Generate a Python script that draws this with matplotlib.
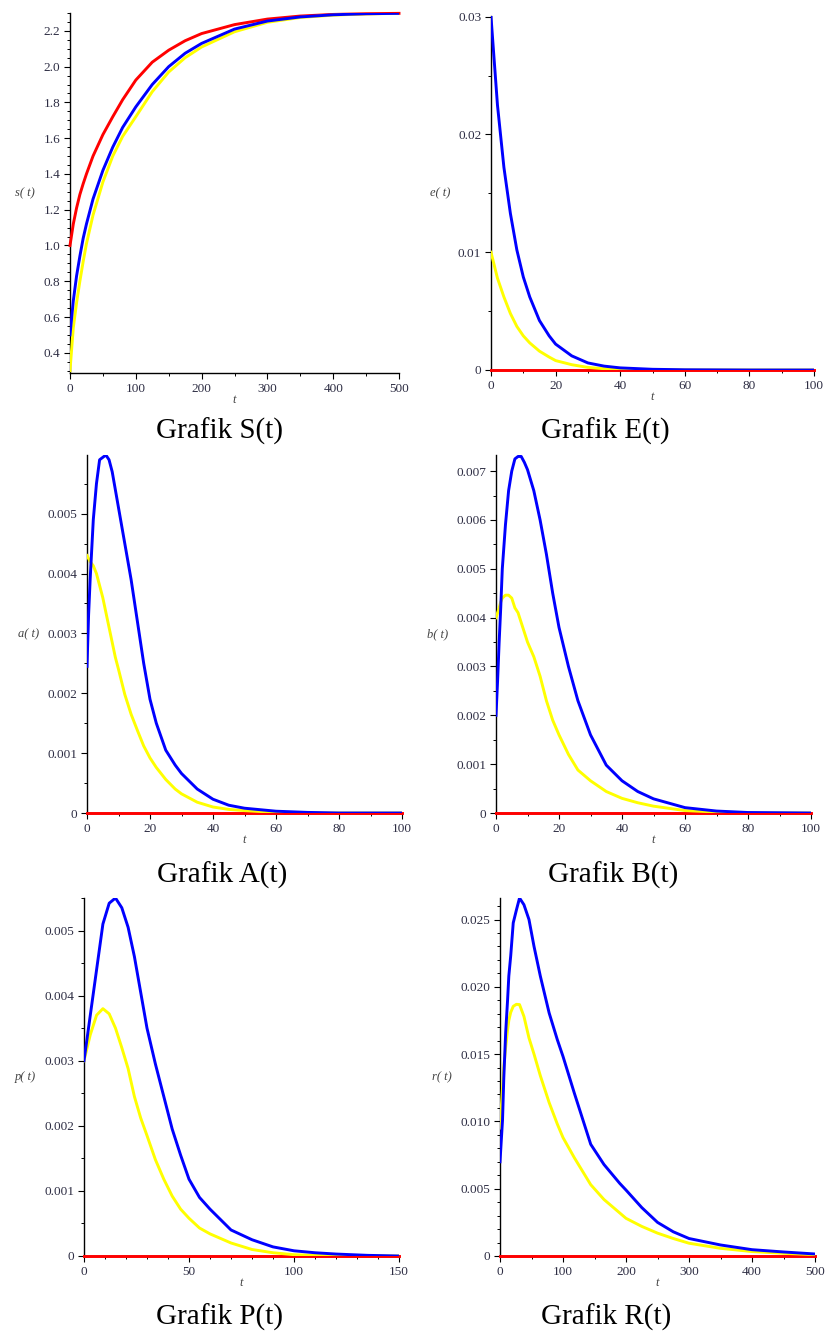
import matplotlib
matplotlib.use("Agg")
import matplotlib.pyplot as plt
from matplotlib.ticker import AutoMinorLocator, FixedLocator

W, H = 826, 1332

# ---- data ----
# S(t)
t_s = [0, 5, 10, 15, 20, 25, 35, 50, 65, 80, 100, 125, 150, 175, 200, 250, 300, 350, 400, 450, 500]
s_red = [1.00, 1.12, 1.21, 1.285, 1.345, 1.40, 1.50, 1.62, 1.72, 1.815, 1.925, 2.025, 2.092, 2.145, 2.185,
         2.235, 2.266, 2.283, 2.292, 2.296, 2.298]
s_blue = [0.50, 0.69, 0.83, 0.94, 1.04, 1.12, 1.26, 1.42, 1.55, 1.66, 1.775, 1.90, 2.00, 2.075, 2.13,
          2.21, 2.255, 2.278, 2.29, 2.296, 2.298]
s_yellow = [0.30, 0.54, 0.68, 0.80, 0.91, 1.01, 1.17, 1.355, 1.50, 1.61, 1.72, 1.86, 1.97, 2.05, 2.11,
            2.195, 2.248, 2.275, 2.288, 2.295, 2.298]

# E(t)
t_e = [0, 2, 4, 6, 8, 10, 12, 15, 18, 20, 25, 30, 35, 40, 50, 60, 80, 100]
e_red = [0.0] * len(t_e)
e_blue = [0.0300, 0.0225, 0.0172, 0.0133, 0.0102, 0.0079, 0.0062, 0.0042, 0.0029, 0.0022, 0.0012,
          0.0006, 0.00033, 0.00018, 0.00006, 0.00002, 0.0, 0.0]
e_yellow = [0.0100, 0.0078, 0.0062, 0.0048, 0.0037, 0.0029, 0.0023, 0.0016, 0.0011, 0.0008, 0.00045,
            0.00022, 0.00011, 0.00005, 0.00001, 0.0, 0.0, 0.0]

# A(t)
t_a = [0, 0.5, 1, 2, 3, 4, 5, 6, 7, 8, 9, 10, 12, 14, 16, 18, 20, 22, 25, 28, 30, 35, 40, 45, 50, 60, 70, 80, 100]
a_red = [0.0] * len(t_a)
a_blue = [0.00245, 0.0033, 0.0039, 0.0049, 0.0055, 0.0059, 0.00594, 0.00598, 0.0059, 0.0057, 0.0054,
          0.0051, 0.0045, 0.0039, 0.0032, 0.0025, 0.0019, 0.0015, 0.00105, 0.0008, 0.00066, 0.0004,
          0.00023, 0.00013, 0.00008, 0.00003, 0.00001, 0.0, 0.0]
a_yellow = [0.0043, 0.00425, 0.0042, 0.00413, 0.0040, 0.0038, 0.0036, 0.00335, 0.0031, 0.00285, 0.0026,
            0.0024, 0.00198, 0.00165, 0.00138, 0.00112, 0.00092, 0.00076, 0.00056, 0.0004, 0.00032,
            0.00018, 0.0001, 0.00006, 0.00004, 0.00001, 0.0, 0.0, 0.0]

# B(t)
t_b = [0, 0.5, 1, 1.5, 2, 3, 4, 5, 6, 7, 8, 9, 10, 12, 14, 16, 18, 20, 23, 26, 30, 35, 40, 45, 50, 60, 70, 80, 100]
b_red = [0.0] * len(t_b)
b_blue = [0.0020, 0.0027, 0.0035, 0.0042, 0.0050, 0.0059, 0.0066, 0.0070, 0.00725, 0.0073, 0.0073,
          0.00718, 0.00703, 0.0066, 0.0060, 0.0053, 0.0045, 0.0038, 0.0030, 0.0023, 0.0016, 0.00098,
          0.00066, 0.00044, 0.00029, 0.00011, 0.00004, 0.00001, 0.0]
b_yellow = [0.0040, 0.0041, 0.0042, 0.00432, 0.0044, 0.00446, 0.00446, 0.0044, 0.0042, 0.0041, 0.0039,
            0.0037, 0.0035, 0.0032, 0.0028, 0.0023, 0.0019, 0.0016, 0.0012, 0.00088, 0.00066, 0.00044,
            0.0003, 0.00021, 0.00014, 0.00005, 0.00002, 0.0, 0.0]

# P(t)
t_p = [0, 3, 6, 9, 12, 15, 18, 21, 24, 27, 30, 34, 38, 42, 46, 50, 55, 60, 70, 80, 90, 100, 110, 120, 135, 150]
p_red = [0.0] * len(t_p)
p_blue = [0.0030, 0.0037, 0.0044, 0.0051, 0.00542, 0.0055, 0.00535, 0.00505, 0.0046, 0.00405, 0.0035,
          0.00295, 0.00245, 0.00195, 0.00155, 0.00118, 0.0009, 0.00072, 0.0004, 0.00025, 0.00014,
          0.00008, 0.00005, 0.00003, 0.00001, 0.0]
p_yellow = [0.0030, 0.0034, 0.0037, 0.0038, 0.00372, 0.0035, 0.0032, 0.00288, 0.00245, 0.00212, 0.00185,
            0.00148, 0.00118, 0.00092, 0.00072, 0.00058, 0.00043, 0.00034, 0.0002, 0.0001, 0.00005,
            0.00002, 0.00001, 0.0, 0.0, 0.0]

# R(t)
t_r = [0, 4, 6, 9, 12, 14, 17, 21, 26, 31, 38, 46, 54, 64, 78, 91, 100, 118, 144, 165, 190, 200, 225,
       250, 275, 300, 350, 400, 450, 500]
r_red = [0.0] * len(t_r)
r_blue = [0.0070, 0.0101, 0.0132, 0.0166, 0.0190, 0.0208, 0.0223, 0.02475, 0.0257, 0.0266, 0.0261,
          0.0250, 0.0230, 0.0208, 0.01806, 0.01607, 0.01483, 0.0121, 0.0083, 0.0068, 0.0054, 0.0049,
          0.0036, 0.0025, 0.0018, 0.0013, 0.00082, 0.00047, 0.0003, 0.00015]
r_yellow = [0.0095, 0.0125, 0.0140, 0.0155, 0.0168, 0.0175, 0.0181, 0.01855, 0.0187, 0.01868, 0.0178,
            0.0162, 0.0150, 0.0134, 0.0114, 0.0098, 0.0088, 0.0073, 0.0053, 0.0042, 0.0032, 0.0028,
            0.0022, 0.0017, 0.0013, 0.00095, 0.00057, 0.00033, 0.0002, 0.0001]

# ---- panel settings ----
panels = [
    dict(rect=(70, 13, 399, 373), t=t_s, red=s_red, blue=s_blue, yellow=s_yellow,
         xlim=(0, 500), ylim=(0.287, 2.300), xt=[0, 100, 200, 300, 400, 500],
         yt=[0.4, 0.6, 0.8, 1.0, 1.2, 1.4, 1.6, 1.8, 2.0, 2.2],
         ytl=["0.4", "0.6", "0.8", "1.0", "1.2", "1.4", "1.6", "1.8", "2.0", "2.2"],
         xm=2, ym=4, ylab="s", ylx=25, title="Grafik S(t)", tpos=(220, 431)),
    dict(rect=(491, 16, 814, 370), t=t_e, red=e_red, blue=e_blue, yellow=e_yellow,
         xlim=(0, 100), ylim=(0, 0.03006), xt=[0, 20, 40, 60, 80, 100],
         yt=[0, 0.01, 0.02, 0.03], ytl=["0", "0.01", "0.02", "0.03"],
         xm=2, ym=2, ylab="e", ylx=440, title="Grafik E(t)", tpos=(605, 431)),
    dict(rect=(87, 455, 402, 813), t=t_a, red=a_red, blue=a_blue, yellow=a_yellow,
         xlim=(0, 100), ylim=(0, 0.00598), xt=[0, 20, 40, 60, 80, 100],
         yt=[0, 0.001, 0.002, 0.003, 0.004, 0.005],
         ytl=["0", "0.001", "0.002", "0.003", "0.004", "0.005"],
         xm=2, ym=2, ylab="a", ylx=29, title="Grafik A(t)", tpos=(222, 875)),
    dict(rect=(496, 455, 811, 813), t=t_b, red=b_red, blue=b_blue, yellow=b_yellow,
         xlim=(0, 100), ylim=(0, 0.00733), xt=[0, 20, 40, 60, 80, 100],
         yt=[0, 0.001, 0.002, 0.003, 0.004, 0.005, 0.006, 0.007],
         ytl=["0", "0.001", "0.002", "0.003", "0.004", "0.005", "0.006", "0.007"],
         xm=2, ym=2, ylab="b", ylx=438, title="Grafik B(t)", tpos=(613, 875)),
    dict(rect=(84, 898, 399, 1256), t=t_p, red=p_red, blue=p_blue, yellow=p_yellow,
         xlim=(0, 150), ylim=(0, 0.0055), xt=[0, 50, 100, 150],
         yt=[0, 0.001, 0.002, 0.003, 0.004, 0.005],
         ytl=["0", "0.001", "0.002", "0.003", "0.004", "0.005"],
         xm=5, ym=2, ylab="p", ylx=25, title="Grafik P(t)", tpos=(220, 1317)),
    dict(rect=(500, 898, 815, 1256), t=t_r, red=r_red, blue=r_blue, yellow=r_yellow,
         xlim=(0, 500), ylim=(0, 0.0266), xt=[0, 100, 200, 300, 400, 500],
         yt=[0, 0.005, 0.010, 0.015, 0.020, 0.025],
         ytl=["0", "0.005", "0.010", "0.015", "0.020", "0.025"],
         xm=2, ym=5, ylab="r", ylx=442, title="Grafik R(t)", tpos=(606, 1317)),
]

serif = ["Liberation Serif", "DejaVu Serif"]
tick_col = "#2e2e44"

fig = plt.figure(figsize=(W / 100, H / 100), dpi=100)

for p in panels:
    l, t, r, b = p["rect"]
    ax = fig.add_axes([l / W, 1 - b / H, (r - l) / W, (b - t) / H])

    ax.plot(p["t"], p["red"], color="#ff0000", lw=2.1, zorder=3, clip_on=False)
    ax.plot(p["t"], p["yellow"], color="#ffff00", lw=2.1, zorder=3)
    ax.plot(p["t"], p["blue"], color="#0000ff", lw=2.1, zorder=3)

    ax.set_xlim(*p["xlim"])
    ax.set_ylim(*p["ylim"])
    ax.set_xticks(p["xt"])
    ax.set_xticklabels([str(v) for v in p["xt"]])
    ax.yaxis.set_major_locator(FixedLocator(p["yt"]))
    ax.set_yticklabels(p["ytl"])
    ax.xaxis.set_minor_locator(AutoMinorLocator(p["xm"]))
    ax.yaxis.set_minor_locator(AutoMinorLocator(p["ym"]))

    for side in ("top", "right"):
        ax.spines[side].set_visible(False)
    for side in ("left", "bottom"):
        ax.spines[side].set_linewidth(1.0)

    ax.tick_params(which="major", direction="out", length=4, width=0.8, pad=3,
                   labelsize=9.5, labelcolor=tick_col)
    ax.tick_params(which="minor", direction="out", length=2.5, width=0.7)
    for lab in ax.get_xticklabels() + ax.get_yticklabels():
        lab.set_family(serif)

    ax.set_xlabel("t", fontsize=9, style="italic", family=serif, color="#444444")
    ax.xaxis.set_label_coords(0.5, -27 / (b - t))
    ax.xaxis.label.set_va("center")
    ax.set_ylabel(p["ylab"] + "( t)", fontsize=9, style="italic", family=serif, color="#444444",
                  rotation=0, ha="center", va="center")
    ax.yaxis.set_label_coords((p["ylx"] - l) / (r - l), 0.5)

    fig.text(p["tpos"][0] / W, 1 - p["tpos"][1] / H, p["title"], fontsize=21, family=serif,
             ha="center", va="center", color="black")

fig.savefig("out.png", dpi=100)
